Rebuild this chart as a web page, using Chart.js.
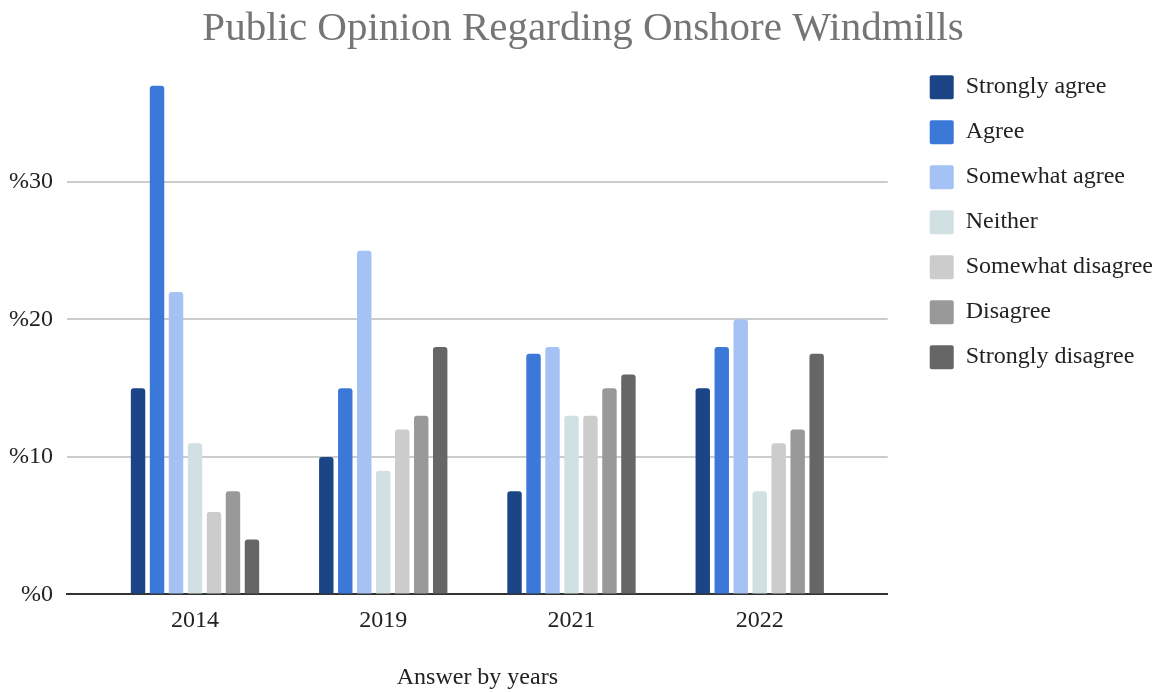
<!DOCTYPE html>
<html>
<head>
<meta charset="utf-8">
<script src="https://cdn.jsdelivr.net/npm/chart.js@4.4.1/dist/chart.umd.min.js"></script>
<style>
  html, body { margin: 0; padding: 0; background: #fff; }
  #wrap { width: 1168px; height: 692px; }
</style>
</head>
<body>
<div id="wrap"><canvas id="bar-chart"></canvas></div>
<script>
// chart data
const years = ["2014", "2019", "2021", "2022"];
const answers = ["Strongly agree", "Agree", "Somewhat agree", "Neither", "Somewhat disagree", "Disagree", "Strongly disagree"];
const stronglyAgree = [15, 10, 7.5, 15];
const agree = [37, 15, 17.5, 18];
const somewhatAgree = [22, 25, 18, 20];
const neither = [11, 9, 13, 7.5];
const somewhatDisagree = [6, 12, 13, 11];
const disagree = [7.5, 13, 15, 12];
const stronglyDisagree = [4, 18, 16, 17.5];
const yTicks = [0, 10, 20, 30];

const series = [stronglyAgree, agree, somewhatAgree, neither, somewhatDisagree, disagree, stronglyDisagree];
const colors = ["#1c4587", "#3c78d8", "#a4c2f4", "#d0e0e3", "#cccccc", "#999999", "#666666"];
const serif = "'Liberation Serif', 'Times New Roman', serif";

// widen the legend box and push its items away from the plot
const legendGap = {
  id: 'legendGap',
  afterInit(chart) {
    const fit = chart.legend.fit;
    chart.legend.fit = function () {
      fit.call(this);
      this.width += 16;
    };
  },
  afterLayout(chart) {
    chart.legend.left += 21;
    chart.legend.right += 21;
  }
};

new Chart(document.getElementById("bar-chart"), {
  type: 'bar',
  data: {
    datasets: series.map((vals, i) => ({
      label: answers[i],
      data: vals.map((v, j) => ({ x: j, y: v })),
      backgroundColor: colors[i],
      borderRadius: 3,
      categoryPercentage: 0.706,
      barPercentage: 0.76
    }))
  },
  options: {
    responsive: true,
    maintainAspectRatio: false,
    animation: false,
    layout: { padding: { left: 8, right: 10, top: 0, bottom: 0 } },
    plugins: {
      title: {
        display: true,
        text: 'Public Opinion Regarding Onshore Windmills',
        color: '#757575',
        font: { family: serif, size: 41, weight: 'normal' },
        padding: { top: 5, bottom: 0 }
      },
      legend: {
        position: 'right',
        align: 'start',
        fullSize: false,
        labels: {
          boxWidth: 24,
          boxHeight: 24,
          padding: 21,
          color: '#222',
          useBorderRadius: true,
          borderRadius: 2,
          font: { family: serif, size: 24, lineHeight: 1 }
        }
      },
      tooltip: { enabled: false }
    },
    scales: {
      x: {
        type: 'linear',
        offset: false,
        min: -0.68,
        max: 3.68,
        grid: { display: false, drawTicks: false },
        border: { display: true, color: '#333', width: 2 },
        ticks: {
          stepSize: 1,
          includeBounds: false,
          padding: 12,
          color: '#222',
          font: { family: serif, size: 24 },
          callback: v => years[v]
        },
        title: {
          display: true,
          text: 'Answer by years',
          color: '#222',
          font: { family: serif, size: 24 },
          padding: { top: 16, bottom: 0 }
        }
      },
      y: {
        min: 0,
        max: 39.3,
        afterFit: scale => { scale.width = 59; },
        afterBuildTicks: scale => {
          scale.ticks = yTicks.map(v => ({ value: v }));
        },
        grid: { color: '#cccccc', lineWidth: 2, drawTicks: false },
        border: { display: false },
        ticks: {
          padding: 14,
          color: '#222',
          font: { family: serif, size: 24 },
          callback: v => '%' + v
        }
      }
    }
  },
  plugins: [legendGap]
});
</script>
</body>
</html>
